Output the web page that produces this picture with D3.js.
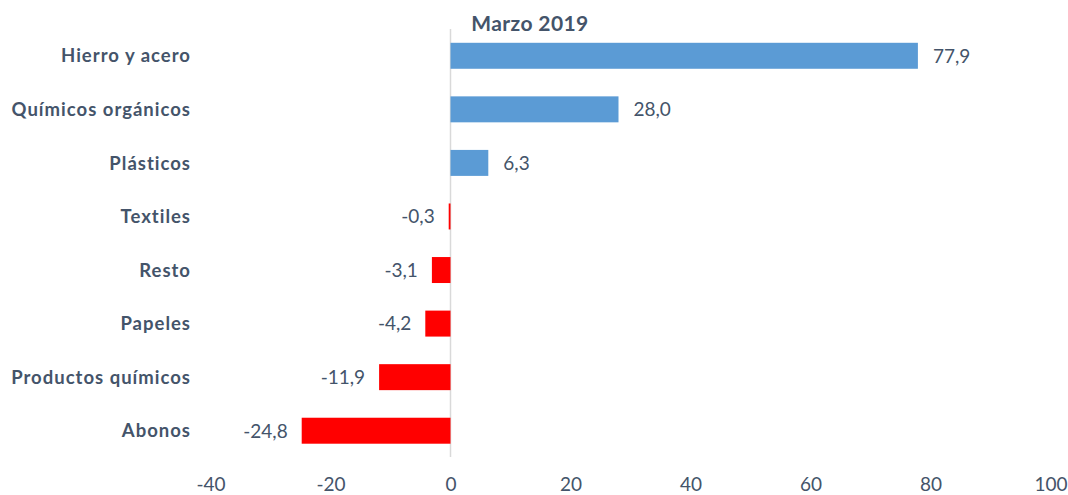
<!DOCTYPE html>
<html>
  <head>
    <meta charset="utf-8">
    <title>Marzo 2019</title>
    <script src="https://d3js.org/d3.v7.min.js"></script>
    <style>
      body { margin: 0; background: #fff; }
      text { font-family: Lato, "Open Sans", sans-serif; fill: #44546A; }
    </style>
  </head>
  <body>
    <script>
      const categories = ["Hierro y acero", "Químicos orgánicos", "Plásticos", "Textiles",
                          "Resto", "Papeles", "Productos químicos", "Abonos"];
      const values = [77.9, 28.0, 6.3, -0.3, -3.1, -4.2, -11.9, -24.8];
      const xTicks = [-40, -20, 0, 20, 40, 60, 80, 100];
      const title = "Marzo 2019";

      const width = 1068, height = 495;

      const svg = d3.select("body")
        .append("svg")
        .attr("width", width)
        .attr("height", height);

      const x = d3.scaleLinear()
        .domain([-40, 100])
        .range([210.5, 1050.5]);

      const y = d3.scaleBand()
        .domain(categories)
        .range([29, 457.5])
        .paddingInner(0.515)
        .paddingOuter(0.2575);

      const fmt = v => d3.format(".1f")(v).replace(".", ",").replace("−", "-");

      // eje vertical en 0
      svg.append("line")
        .attr("x1", x(0)).attr("x2", x(0))
        .attr("y1", 29).attr("y2", 457)
        .attr("stroke", "#D9D9D9")
        .attr("stroke-width", 1.5);

      // barras
      svg.selectAll("rect.bar")
        .data(values)
        .enter()
        .append("rect")
        .attr("class", "bar")
        .attr("x", d => x(Math.min(0, d)))
        .attr("y", (d, i) => y(categories[i]))
        .attr("width", d => Math.abs(x(d) - x(0)))
        .attr("height", y.bandwidth())
        .attr("fill", d => d >= 0 ? "#5B9BD5" : "#FF0000");

      // etiquetas de valor
      svg.selectAll("text.val")
        .data(values)
        .enter()
        .append("text")
        .attr("class", "val")
        .attr("x", d => d >= 0 ? x(d) + 15 : x(d) - 14)
        .attr("y", (d, i) => y(categories[i]) + y.bandwidth() / 2)
        .attr("dy", "0.36em")
        .attr("text-anchor", d => d >= 0 ? "start" : "end")
        .style("font-size", "19px")
        .text(fmt);

      // categorías
      svg.selectAll("text.cat")
        .data(categories)
        .enter()
        .append("text")
        .attr("class", "cat")
        .attr("x", 191)
        .attr("y", d => y(d) + y.bandwidth() / 2)
        .attr("dy", "0.36em")
        .attr("text-anchor", "end")
        .style("font-size", "18.5px")
        .style("font-weight", "bold")
        .style("letter-spacing", "1px")
        .text(d => d);

      // eje X (solo etiquetas)
      const xAxis = svg.append("g")
        .attr("transform", "translate(0,484)")
        .call(d3.axisBottom(x).tickValues(xTicks).tickSize(0).tickPadding(0)
              .tickFormat(d => String(d)));
      xAxis.select(".domain").remove();
      xAxis.selectAll("text")
        .attr("y", 0)
        .attr("dy", "0.36em")
        .style("font-family", "Lato, 'Open Sans', sans-serif")
        .style("font-size", "19px")
        .attr("fill", "#44546A");

      // título
      svg.append("text")
        .attr("x", 530)
        .attr("y", 31)
        .attr("text-anchor", "middle")
        .style("font-size", "21px")
        .style("font-weight", "bold")
        .style("letter-spacing", "0.4px")
        .text(title);
    </script>
  </body>
</html>
